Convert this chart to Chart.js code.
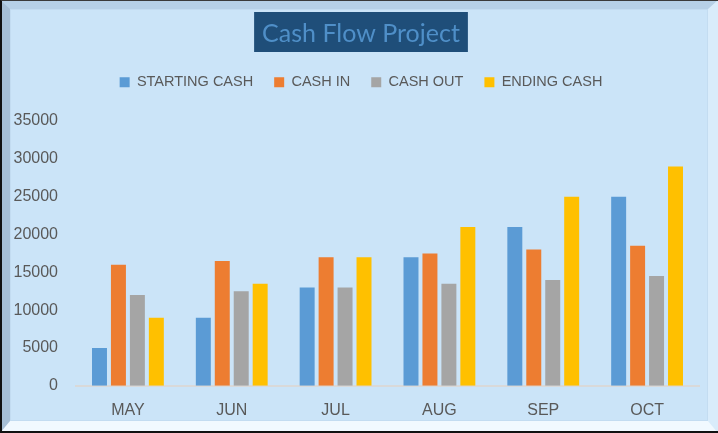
<!DOCTYPE html>
<html>
<head>
<meta charset="utf-8">
<title>Cash Flow Project</title>
<script src="https://cdn.jsdelivr.net/npm/chart.js@4/dist/chart.umd.min.js"></script>
<style>
    html, body { margin: 0; padding: 0; background: #cbe4f8; }
    #wrap { position: relative; width: 718px; height: 433px; overflow: hidden; }
    /* bevelled frame round the chart, like the Office picture effect */
    #frame {
        position: absolute; left: 0; top: 0; width: 718px; height: 433px;
        box-sizing: border-box;
        background: #cbe4f8;
        border-style: solid;
        border-width: 9px 10px 12px 10px;
        border-color: #b6d0e7 #d9ecfb #f1f9ff #a6bfd6;
        box-shadow: inset 0 0 0 1px #c3dcf1;
    }
    #edge {
        position: absolute; left: 0; top: 0; width: 718px; height: 433px;
        box-sizing: border-box;
        border-left: 2px solid #111;
        border-bottom: 2px solid #111;
        border-top: 1px solid #3a3a3a;
    }
    canvas { position: absolute; left: 0; top: 0; }
</style>
</head>
<body>
<div id="wrap">
    <div id="frame"></div>
    <div id="edge"></div>
    <canvas id="cashChart" width="718" height="433"></canvas>
</div>
<script>
// --- Data ---
const months = ['MAY', 'JUN', 'JUL', 'AUG', 'SEP', 'OCT'];
const startingCash = [5000, 9000, 13000, 17000, 21000, 25000];
const cashIn = [16000, 16500, 17000, 17500, 18000, 18500];
const cashOut = [12000, 12500, 13000, 13500, 14000, 14500];
const endingCash = [9000, 13500, 17000, 21000, 25000, 29000];

const LABEL_GREY = '#595959';

// Dark box behind the title text
const titleBox = {
    id: 'titleBox',
    beforeDraw(chart) {
        const tb = chart.titleBlock;
        if (!tb) return;
        const ctx = chart.ctx;
        const f = tb.options.font;
        ctx.save();
        ctx.font = f.size + 'px ' + f.family;
        const w = ctx.measureText(tb.options.text).width;
        const cx = (tb.left + tb.right) / 2;
        ctx.fillStyle = '#1f4e79';
        ctx.fillRect(cx - w / 2 - 8, 12, w + 16, 40);
        ctx.restore();
    }
};

// Fixed legend height so the plot starts where the reference does
const legendGap = {
    id: 'legendGap',
    beforeInit(chart) {
        const fit = chart.legend.fit;
        chart.legend.fit = function () {
            fit.call(this);
            this.height = 67;
        };
    }
};

const ctx = document.getElementById('cashChart').getContext('2d');

new Chart(ctx, {
    type: 'bar',
    data: {
        labels: months,
        datasets: [
            { label: 'STARTING CASH', data: startingCash, backgroundColor: '#5b9bd5' },
            { label: 'CASH IN', data: cashIn, backgroundColor: '#ed7d31' },
            { label: 'CASH OUT', data: cashOut, backgroundColor: '#a5a5a5' },
            { label: 'ENDING CASH', data: endingCash, backgroundColor: '#ffc000' },
        ]
    },
    options: {
        responsive: false,
        animation: false,
        devicePixelRatio: 1,
        categoryPercentage: 0.73,
        barPercentage: 0.79,
        layout: { padding: { left: 4, right: 0, top: 0, bottom: -2 } },
        plugins: {
            title: {
                display: true,
                text: 'Cash Flow Project',
                color: '#4f8fc8',
                font: { family: 'Lato', size: 25, weight: 'normal' },
                padding: { top: 19, bottom: 5 }
            },
            legend: {
                labels: {
                    boxWidth: 10,
                    boxHeight: 10,
                    padding: 21,
                    color: LABEL_GREY,
                    font: { family: 'Liberation Sans', size: 14.5 }
                }
            },
            tooltip: { enabled: false }
        },
        scales: {
            x: {
                grid: { display: false, drawTicks: false },
                border: { display: true, color: '#d9d9d9', width: 2 },
                ticks: {
                    color: LABEL_GREY,
                    padding: 15,
                    font: { family: 'Liberation Sans', size: 16 }
                }
            },
            y: {
                min: 0,
                max: 35000,
                grid: { display: false, drawTicks: false },
                border: { display: false },
                ticks: {
                    stepSize: 5000,
                    padding: 18,
                    color: LABEL_GREY,
                    font: { family: 'Liberation Sans', size: 16 },
                    callback: (v) => String(v)
                },
                afterFit: (scale) => { scale.width = 72; }
            },
            // empty right-hand axis, only to keep the plot off the right bevel
            yRight: {
                position: 'right',
                min: 0,
                max: 35000,
                grid: { display: false, drawTicks: false },
                border: { display: false },
                ticks: { display: false },
                afterFit: (scale) => { scale.width = 19; }
            }
        }
    },
    plugins: [titleBox, legendGap]
});
</script>
</body>
</html>
